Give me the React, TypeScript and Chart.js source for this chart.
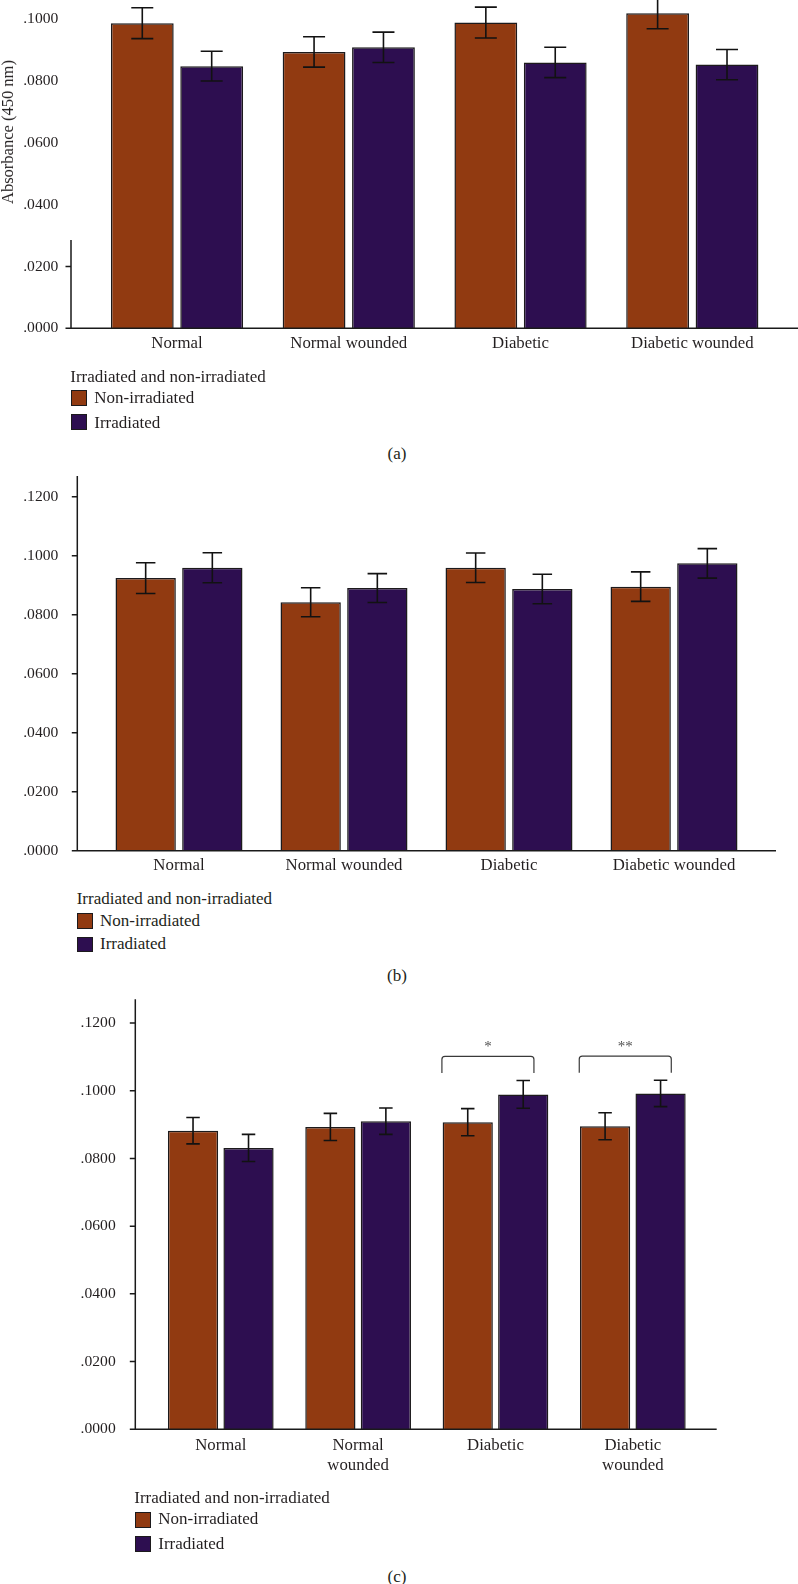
import React, { useEffect, useRef } from 'react';
import { Chart, registerables } from 'chart.js';

Chart.register(...registerables);

// ---------------- DATA ----------------
const categories = ['Normal', 'Normal wounded', 'Diabetic', 'Diabetic wounded'];
const seriesNames = ['Non-irradiated', 'Irradiated'];
const legendTitle = 'Irradiated and non-irradiated';
const yAxisTitle = 'Absorbance (450 nm)';

// Panel (a)
const aNonIrr = [0.0987, 0.0894, 0.0989, 0.1019];
const aNonIrrErr = [0.005, 0.0049, 0.005, 0.005];
const aIrr = [0.0848, 0.0909, 0.086, 0.0853];
const aIrrErr = [0.0048, 0.0049, 0.0049, 0.0049];

// Panel (b)
const bNonIrr = [0.0924, 0.0842, 0.0959, 0.0895];
const bNonIrrErr = [0.0052, 0.0049, 0.005, 0.005];
const bIrr = [0.0959, 0.089, 0.0887, 0.0974];
const bIrrErr = [0.0051, 0.0049, 0.005, 0.005];

// Panel (c)
const cNonIrr = [0.0882, 0.0893, 0.0907, 0.0895];
const cNonIrrErr = [0.0039, 0.004, 0.004, 0.004];
const cIrr = [0.0831, 0.091, 0.0989, 0.0992];
const cIrrErr = [0.004, 0.0039, 0.0041, 0.0039];
const cSignificance = [
  { category: 2, label: '*' },
  { category: 3, label: '**' },
];

const yStep = 0.02;
const panelLetters = ['(a)', '(b)', '(c)'];

// ---------------- STYLE ----------------
const FONT = "'Liberation Serif', 'Times New Roman', serif";
const TEXT = '#231f20';
const COLORS = ['#913a11', '#2d0e50'];
const BAR_BORDER = '#1c1a1c';

type Geom = {
  top: number;
  height: number;
  plotTop: number;
  plotBottom: number;
  catLeft: number;
  catRight: number;
  extLeft: number;
  extRight: number;
  labelRight: number;
  yMax: number;
  xPad: number;
  cap: number;
  yLineTop?: number;
};

const geomA: Geom = {
  top: 0, height: 380, plotTop: 0, plotBottom: 328.3, catLeft: 91.1, catRight: 778.2,
  extLeft: 20.1, extRight: 19.8, labelRight: 58.3, yMax: 0.1062, xPad: 5, cap: 22, yLineTop: 240,
};
const geomB: Geom = {
  top: 466, height: 420, plotTop: 476, plotBottom: 850.7, catLeft: 96.5, catRight: 756.5,
  extLeft: 19.2, extRight: 19.5, labelRight: 58.3, yMax: 0.127, xPad: 5, cap: 19.5,
};
const geomC: Geom = {
  top: 990, height: 500, plotTop: 999.3, plotBottom: 1429.3, catLeft: 152.1, catRight: 701.5,
  extLeft: 16.8, extRight: 15.2, labelRight: 115.7, yMax: 0.127, xPad: 6, cap: 13.5,
};

const fmtTick = (v: number) => v.toFixed(4).replace(/^0/, '');

const panelPlugin = {
  id: 'panelDecor',
  afterDatasetsDraw(chart: any, _args: any, opts: any) {
    const { ctx, chartArea } = chart;
    const xs = chart.scales.x;
    const ys = chart.scales.y;
    ctx.save();

    // error bars
    chart.data.datasets.forEach((ds: any, di: number) => {
      const meta = chart.getDatasetMeta(di);
      meta.data.forEach((bar: any, i: number) => {
        const v = ds.data[i];
        const e = ds.errors[i];
        const yt = ys.getPixelForValue(v + e);
        const yb = ys.getPixelForValue(v - e);
        const half = opts.cap / 2;
        ctx.strokeStyle = '#121212';
        ctx.lineWidth = 1.6;
        ctx.beginPath();
        ctx.moveTo(bar.x, yt);
        ctx.lineTo(bar.x, yb);
        ctx.moveTo(bar.x - half, yt);
        ctx.lineTo(bar.x + half, yt);
        ctx.moveTo(bar.x - half, yb);
        ctx.lineTo(bar.x + half, yb);
        ctx.stroke();
      });
    });

    // axes
    const axisL = chartArea.left - opts.extLeft;
    const axisR = chartArea.right + opts.extRight;
    const y0 = ys.getPixelForValue(0);
    const lineTop = opts.yLineTop != null ? opts.yLineTop - opts.top : chartArea.top;
    ctx.strokeStyle = '#1a1a1a';
    ctx.lineWidth = 1.5;
    ctx.beginPath();
    ctx.moveTo(axisL, lineTop);
    ctx.lineTo(axisL, y0);
    ctx.moveTo(axisL - 5.5, y0);
    ctx.lineTo(axisR, y0);
    ys.ticks.forEach((t: any) => {
      const py = ys.getPixelForValue(t.value);
      if (py >= lineTop - 0.5) {
        ctx.moveTo(axisL - 5.5, py);
        ctx.lineTo(axisL, py);
      }
    });
    ctx.stroke();

    // significance brackets
    (opts.sig || []).forEach((s: any) => {
      const cx = xs.getPixelForValue(s.category);
      const cw = xs.width / chart.data.labels.length;
      const left = cx - 0.39 * cw;
      const right = cx + 0.28 * cw;
      let topErr = Infinity;
      chart.data.datasets.forEach((ds: any) => {
        topErr = Math.min(topErr, ys.getPixelForValue(ds.data[s.category] + ds.errors[s.category]));
      });
      const legBottom = topErr - 7.5;
      const barY = legBottom - 16.6;
      const r = 3;
      ctx.strokeStyle = '#3a3a3a';
      ctx.lineWidth = 1.2;
      ctx.beginPath();
      ctx.moveTo(left, legBottom);
      ctx.lineTo(left, barY + r);
      ctx.quadraticCurveTo(left, barY, left + r, barY);
      ctx.lineTo(right - r, barY);
      ctx.quadraticCurveTo(right, barY, right, barY + r);
      ctx.lineTo(right, legBottom);
      ctx.stroke();
      ctx.fillStyle = '#505050';
      ctx.font = `15px ${FONT}`;
      ctx.textAlign = 'center';
      ctx.textBaseline = 'middle';
      ctx.fillText(s.label, (left + right) / 2, barY - 9);
    });

    ctx.restore();
  },
};

type PanelProps = {
  geom: Geom;
  labels: any[];
  nonIrr: number[];
  nonIrrErr: number[];
  irr: number[];
  irrErr: number[];
  sig?: { category: number; label: string }[];
};

function Panel({ geom, labels, nonIrr, nonIrrErr, irr, irrErr, sig }: PanelProps) {
  const ref = useRef<HTMLCanvasElement>(null);
  useEffect(() => {
    const canvas = ref.current;
    if (!canvas) return;
    const W = 798;
    const localTop = geom.plotTop - geom.top;
    const localBottom = geom.plotBottom - geom.top;
    const chart = new Chart(canvas, {
      type: 'bar',
      data: {
        labels,
        datasets: [
          {
            label: seriesNames[0],
            data: nonIrr,
            errors: nonIrrErr,
            backgroundColor: COLORS[0],
            borderColor: BAR_BORDER,
            borderWidth: 1.5,
            categoryPercentage: 0.808,
            barPercentage: 0.905,
          } as any,
          {
            label: seriesNames[1],
            data: irr,
            errors: irrErr,
            backgroundColor: COLORS[1],
            borderColor: BAR_BORDER,
            borderWidth: 1.5,
            categoryPercentage: 0.808,
            barPercentage: 0.905,
          } as any,
        ],
      },
      options: {
        responsive: false,
        animation: false,
        devicePixelRatio: 1,
        layout: { padding: { left: 0, right: W - geom.catRight, top: localTop, bottom: 0 } },
        plugins: {
          legend: { display: false },
          tooltip: { enabled: false },
          panelDecor: { ...geom, sig: sig || [] },
        } as any,
        scales: {
          x: {
            type: 'category',
            offset: true,
            grid: { display: false, drawTicks: false },
            border: { display: false },
            ticks: {
              padding: geom.xPad,
              color: TEXT,
              maxRotation: 0,
              autoSkip: false,
              font: { family: FONT, size: 16.8, lineHeight: '20px' } as any,
            },
            afterFit: (s: any) => {
              s.height = geom.height - localBottom;
              s.paddingLeft = 0;
              s.paddingRight = 0;
            },
          },
          y: {
            min: 0,
            max: geom.yMax,
            grid: { display: false, drawTicks: false },
            border: { display: false },
            ticks: {
              stepSize: yStep,
              includeBounds: false,
              padding: geom.catLeft - geom.labelRight,
              color: TEXT,
              font: { family: FONT, size: 15.6 },
              callback: (v: any) => fmtTick(Number(v)),
            },
            afterFit: (s: any) => {
              s.width = geom.catLeft;
              s.paddingTop = 0;
              s.paddingBottom = 0;
            },
          },
        },
      },
      plugins: [panelPlugin as any],
    });
    return () => chart.destroy();
  }, []);
  return (
    <canvas
      ref={ref}
      width={798}
      height={geom.height}
      style={{ position: 'absolute', left: 0, top: geom.top, width: 798, height: geom.height }}
    />
  );
}

type LegendProps = {
  titleX: number;
  titleY: number;
  sqX: number;
  sqSize: number;
  rowTops: number[];
  textX: number;
  textYs: number[];
};

function Legend({ titleX, titleY, sqX, sqSize, rowTops, textX, textYs }: LegendProps) {
  const base: React.CSSProperties = {
    position: 'absolute',
    fontFamily: FONT,
    fontSize: 17,
    lineHeight: '20px',
    color: TEXT,
    whiteSpace: 'nowrap',
  };
  return (
    <>
      <div style={{ ...base, left: titleX, top: titleY - 10 }}>{legendTitle}</div>
      {seriesNames.map((n, i) => (
        <React.Fragment key={n}>
          <div
            style={{
              position: 'absolute',
              left: sqX,
              top: rowTops[i],
              width: sqSize,
              height: sqSize,
              boxSizing: 'border-box',
              background: COLORS[i],
              border: `1.5px solid ${BAR_BORDER}`,
            }}
          />
          <div style={{ ...base, left: textX, top: textYs[i] - 10 }}>{n}</div>
        </React.Fragment>
      ))}
    </>
  );
}

function Caption({ text, x, y }: { text: string; x: number; y: number }) {
  return (
    <div
      style={{
        position: 'absolute',
        left: x,
        top: y - 10,
        transform: 'translateX(-50%)',
        fontFamily: FONT,
        fontSize: 17,
        lineHeight: '20px',
        color: TEXT,
      }}
    >
      {text}
    </div>
  );
}

export default function App() {
  const labelsC = categories.map((c) => c.split(' '));
  return (
    <div
      style={{
        position: 'absolute',
        left: 0,
        top: 0,
        width: 798,
        height: 1584,
        background: '#fff',
        overflow: 'hidden',
      }}
    >
      <Panel geom={geomA} labels={categories} nonIrr={aNonIrr} nonIrrErr={aNonIrrErr} irr={aIrr} irrErr={aIrrErr} />
      <div
        style={{
          position: 'absolute',
          left: 8,
          top: 132,
          transform: 'translate(-50%, -50%) rotate(-90deg)',
          whiteSpace: 'nowrap',
          fontFamily: FONT,
          fontSize: 16.5,
          lineHeight: '18px',
          color: TEXT,
        }}
      >
        {yAxisTitle}
      </div>
      <Legend titleX={70.3} titleY={376.7} sqX={71} sqSize={16} rowTops={[390, 414]} textX={94.3} textYs={[397.7, 422.7]} />
      <Caption text={panelLetters[0]} x={397} y={454} />

      <Panel geom={geomB} labels={categories} nonIrr={bNonIrr} nonIrrErr={bNonIrrErr} irr={bIrr} irrErr={bIrrErr} />
      <Legend titleX={76.7} titleY={899.3} sqX={77.3} sqSize={15.5} rowTops={[913.3, 936.7]} textX={100} textYs={[921, 944.3]} />
      <Caption text={panelLetters[1]} x={397} y={976} />

      <Panel
        geom={geomC}
        labels={labelsC}
        nonIrr={cNonIrr}
        nonIrrErr={cNonIrrErr}
        irr={cIrr}
        irrErr={cIrrErr}
        sig={cSignificance}
      />
      <Legend titleX={134.3} titleY={1498.3} sqX={135} sqSize={16} rowTops={[1512.3, 1536]} textX={158.3} textYs={[1519.3, 1544.3]} />
      <Caption text={panelLetters[2]} x={397} y={1577} />
    </div>
  );
}
